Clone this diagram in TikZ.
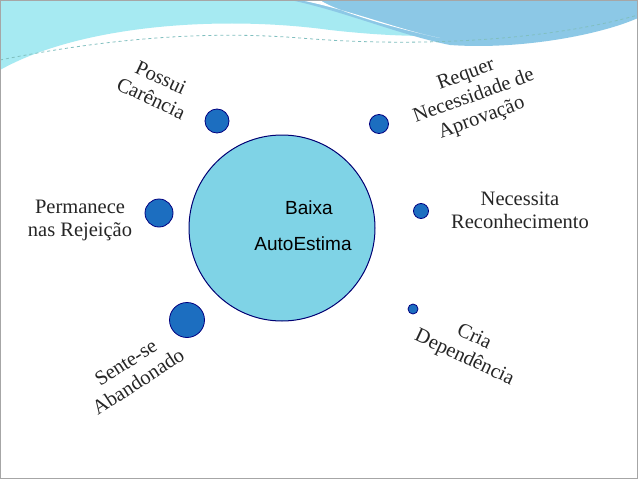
\documentclass[tikz,border=0pt]{standalone}
\usepackage{fontspec}
\setmainfont{Liberation Serif}
\setsansfont{Liberation Sans}
\begin{document}
\begin{tikzpicture}[x=1pt,y=-1pt,
  dot/.style={circle,draw=blue!50!black,line width=0.8pt,fill=dotblue,inner sep=0pt},
  lbl/.style={font=\fontsize{20.5}{23}\selectfont,align=center,text=black!85}]
\definecolor{dotblue}{HTML}{1C6EC0}
\definecolor{bigfill}{HTML}{7FD3E6}
\definecolor{banner}{HTML}{A6EAF2}
\definecolor{banner2}{HTML}{8CC8E6}
\useasboundingbox (0,0) rectangle (638,479);
\fill[white] (0,0) rectangle (638,479);
% banner
\fill[banner] (0,0) -- (638,0) -- (638,10) .. controls (500,40) and (420,40) .. (330,30) .. controls (220,15) and (80,25) .. (0,70) -- cycle;
\fill[banner2] (290,0) -- (638,0) -- (638,18) .. controls (600,35) and (520,50) .. (450,45) .. controls (400,35) and (340,10) .. (290,0) -- cycle;
\fill[white] (300,0) .. controls (350,10) and (400,30) .. (440,38) .. controls (380,25) and (330,8) .. (320,0) -- cycle;
\draw[teal!50,dashed,line width=0.8pt] (0,60) .. controls (100,40) and (200,30) .. (300,38) .. controls (420,48) and (550,40) .. (638,15);
\draw[gray!70,line width=0.8pt] (0.5,0.5) rectangle (637.5,478.5);
% big circle
\node[circle,draw=blue!45!black,line width=1pt,fill=bigfill,minimum size=186pt,inner sep=0pt] (c) at (282,228) {};
\node[font=\sffamily\fontsize{19}{22}\selectfont] (t1) at (309,208) {Baixa};
\node[font=\sffamily\fontsize{19}{22}\selectfont] (t2) at (303,244) {AutoEstima};
% dots
\node[dot,minimum size=24pt] (d1) at (217,121) {};
\node[dot,minimum size=19pt] (d2) at (379,124) {};
\node[dot,minimum size=28pt] (d3) at (159,213) {};
\node[dot,minimum size=15pt] (d4) at (421,211) {};
\node[dot,minimum size=35pt] (d5) at (187,320) {};
\node[dot,minimum size=10pt] (d6) at (413,309) {};
% labels
\node[lbl,rotate=-25] (l1) at (156,88) {Possui\\Carência};
\node[lbl,rotate=20] (l2) at (474,97) {Requer\\Necessidade de\\Aprovação};
\node[lbl] (l3) at (80,220) {Permanece\\nas Rejeição};
\node[lbl] (l4) at (520,210) {Necessita\\Reconhecimento};
\node[lbl,rotate=-25] (l5) at (469,348) {Cria\\Dependência};
\node[lbl,rotate=33] (l6) at (132,372) {Sente-se\\Abandonado};
\end{tikzpicture}
\end{document}
